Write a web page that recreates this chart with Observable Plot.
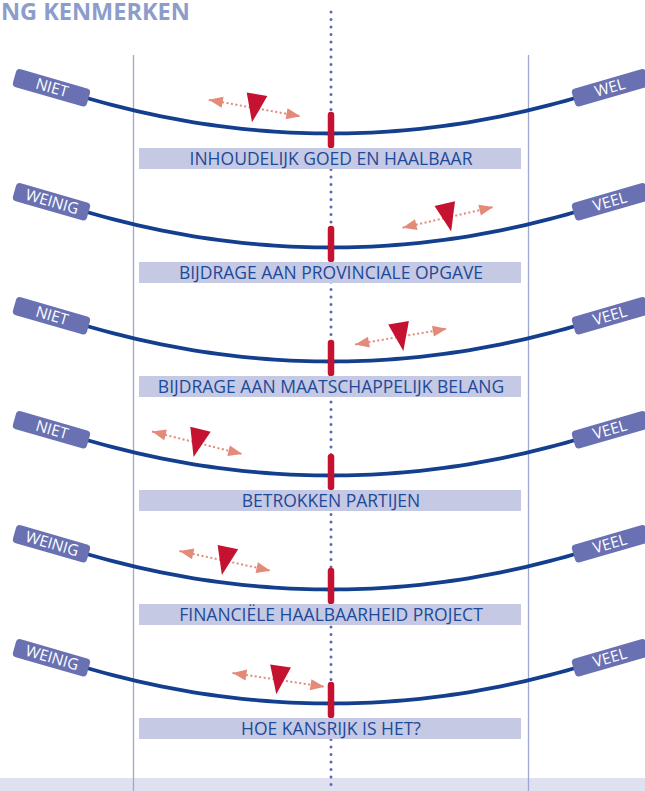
<!DOCTYPE html>
<html><head><meta charset="utf-8">
<script src="https://cdn.jsdelivr.net/npm/d3@7"></script>
<script src="https://cdn.jsdelivr.net/npm/@observablehq/plot@0.6"></script>
<style>
html,body{margin:0;padding:0;background:#fff;overflow:hidden;}
#wrap{position:relative;width:645px;height:791px;}
#title{position:absolute;left:1px;top:0px;font:bold 23.5px/1 "Open Sans",sans-serif;color:#8c9dcb;white-space:nowrap;}
</style></head><body>
<div id="wrap"><div id="chart"></div><div id="title">NG KENMERKEN</div></div>
<script>
// ---- data ----
const labels = [
  "INHOUDELIJK GOED EN HAALBAAR",
  "BIJDRAGE AAN PROVINCIALE OPGAVE",
  "BIJDRAGE AAN MAATSCHAPPELIJK BELANG",
  "BETROKKEN PARTIJEN",
  "FINANCIËLE HAALBAARHEID PROJECT",
  "HOE KANSRIJK IS HET?"
];
const leftTags = ["NIET", "WEINIG", "NIET", "NIET", "WEINIG", "WEINIG"];
const rightTags = ["WEL", "VEEL", "VEEL", "VEEL", "VEEL", "VEEL"];
const scores = [-0.387, 0.592, 0.354, -0.678, -0.537, -0.266];

// ---- layout ----
const W = 645, H = 791;
const X0 = 133, X1 = 528, Y0 = 133, ROW = 114;
const PXX = (X1 - X0) / 2, PXY = ROW;
const XE = 1.228, DIP = 35 / ROW;
const xd = px => (px - (X0 + X1) / 2) / PXX;
const yd = py => (py - Y0) / ROW;
const curveY = (i, x) => i - DIP * (x / XE) ** 2;
const deg = Math.PI / 180;

const C = {
  curve: "#133f8e", tag: "#6971b3", red: "#c41230", bar: "#c6c9e3",
  label: "#1c4a9a", vline: "#9ea6d2", dots: "#5d6ab2", band: "#dfe1f0", arrow: "#e48a79"
};

const rows = d3.range(labels.length);

// curve track
const track = rows.flatMap(i => d3.range(0, 61).map(k => {
  const x = -XE + (2 * XE) * k / 60;
  return {i, x, y: curveY(i, x)};
}));

// tags
const endAngle = Math.atan(2 * DIP / XE * PXY / PXX) / deg;
const tagHalf = 38;
const tags = rows.flatMap(i => [
  {i, side: -1, x: -XE, y: curveY(i, -XE), t: leftTags[i], rot: endAngle,
   tx: -XE - tagHalf * Math.cos(endAngle * deg) / PXX, ty: curveY(i, -XE) - tagHalf * Math.sin(endAngle * deg) / PXY},
  {i, side: 1, x: XE, y: curveY(i, XE), t: rightTags[i], rot: -endAngle,
   tx: XE + tagHalf * Math.cos(endAngle * deg) / PXX, ty: curveY(i, XE) - tagHalf * Math.sin(endAngle * deg) / PXY}
]);

function roundRect(x0, x1, h, r) {
  return {draw(ctx) {
    const y0 = -h / 2, y1 = h / 2;
    ctx.moveTo(x0 + r, y0); ctx.lineTo(x1 - r, y0); ctx.arcTo(x1, y0, x1, y0 + r, r);
    ctx.lineTo(x1, y1 - r); ctx.arcTo(x1, y1, x1 - r, y1, r);
    ctx.lineTo(x0 + r, y1); ctx.arcTo(x0, y1, x0, y1 - r, r);
    ctx.lineTo(x0, y0 + r); ctx.arcTo(x0, y0, x0 + r, y0, r); ctx.closePath();
  }};
}
const tagLeft = roundRect(-77, 0, 18.5, 4);
const tagRight = roundRect(0, 77, 18.5, 4);
const headSym = {draw(ctx) { ctx.moveTo(0, 0); ctx.lineTo(-14, -5.5); ctx.lineTo(-14, 5.5); ctx.closePath(); }};
const triSym = {draw(ctx) { ctx.moveTo(-10.5, -14); ctx.lineTo(10.5, -14); ctx.lineTo(0, 14.5); ctx.closePath(); }};

// markers
const markers = rows.map(i => {
  const s = scores[i];
  const slope = -2 * DIP * s / XE ** 2 * PXY / PXX;
  const tilt = Math.atan(slope) / deg - Math.sign(s) * 5;
  const cx = s, cy = curveY(i, s) - 22 / ROW;
  const hx = 46.5 * Math.cos(tilt * deg) / PXX, hy = 46.5 * Math.sin(tilt * deg) / PXY;
  return {i, cx, cy, tilt, x1: cx - hx, y1: cy - hy, x2: cx + hx, y2: cy + hy};
});
const heads = markers.flatMap(d => [
  {x: d.x1, y: d.y1, rot: d.tilt + 180},
  {x: d.x2, y: d.y2, rot: d.tilt}
]);

const plot = Plot.plot({
  width: W, height: H, margin: 0,
  x: {domain: [-1, 1], range: [X0, X1], axis: null},
  y: {domain: [0, 5], range: [Y0, Y0 + 5 * ROW], axis: null},
  style: {background: "white", fontFamily: "'Open Sans', sans-serif", overflow: "visible"},
  marks: [
    Plot.rect([0], {x1: () => xd(0), x2: () => xd(W), y1: () => yd(778), y2: () => yd(H), fill: C.band}),
    Plot.ruleX([-1, 1], {x: d => d, y1: () => yd(55), y2: () => yd(H), stroke: C.vline, strokeWidth: 1.3}),
    Plot.ruleX([0], {x: d => d, y1: () => yd(12), y2: () => yd(H), stroke: C.dots, strokeWidth: 3,
      strokeDasharray: "0,7.5", strokeLinecap: "round"}),
    Plot.line(track, {x: "x", y: "y", z: "i", stroke: C.curve, strokeWidth: 3.8}),
    Plot.dot(tags.filter(d => d.side < 0), {x: "x", y: "y", rotate: "rot", symbol: tagLeft, r: 5, fill: C.tag, stroke: "none"}),
    Plot.dot(tags.filter(d => d.side > 0), {x: "x", y: "y", rotate: "rot", symbol: tagRight, r: 5, fill: C.tag, stroke: "none"}),
    Plot.text(tags, {x: "tx", y: "ty", text: "t", rotate: "rot", fill: "white", fontSize: 15.5, ariaLabel: "tagtext"}),
    Plot.ruleX(rows, {x: () => 0, y1: i => i - 18 / ROW, y2: i => i + 12 / ROW, stroke: C.red, strokeWidth: 6.5, strokeLinecap: "round"}),
    Plot.rect(rows, {x1: () => xd(139), x2: () => xd(521), y1: i => i + 15 / ROW, y2: i => i + 36 / ROW, fill: C.bar}),
    Plot.text(rows, {x: () => 0, y: i => i + 25.5 / ROW, text: i => labels[i], fill: C.label, fontSize: 17.5, ariaLabel: "labels"}),
    Plot.link(markers, {x1: "x1", y1: "y1", x2: "x2", y2: "y2", stroke: C.arrow, strokeWidth: 2, strokeDasharray: "2,2.5"}),
    Plot.dot(heads, {x: "x", y: "y", rotate: "rot", symbol: headSym, r: 5, fill: C.arrow, stroke: "none"}),
    Plot.dot(markers, {x: "cx", y: "cy", rotate: "tilt", symbol: triSym, r: 5, fill: C.red, stroke: "none"})
  ]
});
document.getElementById("chart").appendChild(plot);
d3.select(plot).selectAll('g[aria-label="labels"] text').style("letter-spacing", "1.3px");
d3.select(plot).selectAll('g[aria-label="tagtext"] text').style("letter-spacing", "0.6px");
</script>
</body></html>
